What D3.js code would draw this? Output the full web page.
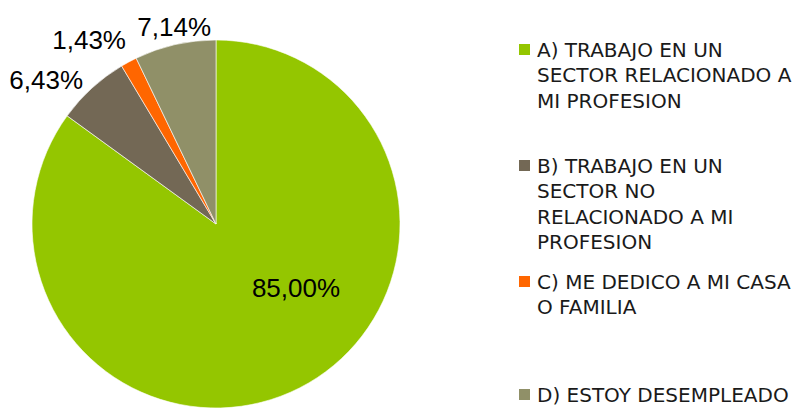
<!DOCTYPE html>
<html>
<head>
<meta charset="utf-8">
<script src="https://cdn.jsdelivr.net/npm/d3@7"></script>
<style>
  html, body { margin: 0; padding: 0; background: #fff; }
  svg { display: block; }
</style>
</head>
<body>
<svg id="chart" width="807" height="408"></svg>
<script>
// Situación laboral de los egresados (porcentajes)
const categories = [
  "A) TRABAJO EN UN SECTOR RELACIONADO A MI PROFESION",
  "B) TRABAJO EN UN SECTOR NO RELACIONADO A MI PROFESION",
  "C) ME DEDICO A MI CASA O FAMILIA",
  "D) ESTOY DESEMPLEADO"
];
const legendLines = [
  ["A) TRABAJO EN UN", "SECTOR RELACIONADO A", "MI PROFESION"],
  ["B) TRABAJO EN UN", "SECTOR NO", "RELACIONADO A MI", "PROFESION"],
  ["C) ME DEDICO A MI CASA", "O FAMILIA"],
  ["D) ESTOY DESEMPLEADO"]
];
const values = [85.00, 6.43, 1.43, 7.14];
const colors = ["#94c600", "#736855", "#ff6600", "#909068"];

const svg = d3.select("#chart");
const cx = 216, cy = 224, radius = 184;

const pie = d3.pie().sort(null).value(d => d);
const arcs = pie(values);
const arc = d3.arc().innerRadius(0).outerRadius(radius);

const g = svg.append("g").attr("transform", `translate(${cx},${cy})`);

g.selectAll("path.slice")
  .data(arcs)
  .join("path")
  .attr("class", "slice")
  .attr("d", arc)
  .attr("fill", (d, i) => colors[i])
  .attr("stroke", "#ffffff")
  .attr("stroke-width", 0.6);

// Data labels: A sits inside its slice, the small slices get labels outside the rim
const fmt = v => v.toFixed(2).replace(".", ",") + "%";
const labelPlacement = [
  { r: 0.557, dAngle: -0.424 },
  { r: 1.21, dAngle: -0.127 },
  { r: 1.215, dAngle: -0.11 },
  { r: 1.098, dAngle: 0.016 }
];
g.selectAll("text.value")
  .data(arcs)
  .join("text")
  .attr("class", "value")
  .attr("transform", (d, i) => {
    const p = labelPlacement[i];
    const a = (d.startAngle + d.endAngle) / 2 + p.dAngle;
    const rr = radius * p.r;
    return `translate(${rr * Math.sin(a)},${-rr * Math.cos(a)})`;
  })
  .attr("text-anchor", "middle")
  .attr("dy", "0.36em")
  .attr("font-family", "'Liberation Sans', Arial, sans-serif")
  .attr("font-size", 26)
  .attr("fill", "#000")
  .text(d => fmt(d.data));

// Legend
const legendTop = [57, 173, 289, 402];
const lineH = 25.3;
const legend = svg.append("g").attr("transform", "translate(519,0)");
legendLines.forEach((lines, i) => {
  const item = legend.append("g");
  item.append("rect")
    .attr("x", 0)
    .attr("y", legendTop[i] - 13)
    .attr("width", 11)
    .attr("height", 11)
    .attr("fill", colors[i]);
  const t = item.append("text")
    .attr("font-family", "'DejaVu Sans', sans-serif")
    .attr("font-size", 20)
    .attr("fill", "#1a1a1a");
  lines.forEach((ln, j) => {
    t.append("tspan")
      .attr("x", 18)
      .attr("y", legendTop[i] + j * lineH)
      .text(ln);
  });
});
</script>
</body>
</html>
